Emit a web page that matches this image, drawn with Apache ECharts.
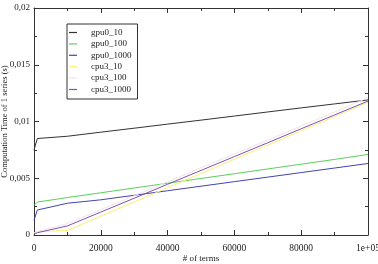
<!DOCTYPE html>
<html>
<head>
<meta charset="utf-8">
<script src="https://cdn.jsdelivr.net/npm/echarts@6/dist/echarts.min.js"></script>
<style>
  html, body { margin: 0; padding: 0; background: #fff; }
  #chart { width: 378px; height: 264px; }
</style>
</head>
<body>
<div id="chart"></div>
<script>
const terms = [0, 1000, 10000, 20000, 30000, 40000, 50000, 60000, 70000, 80000, 90000, 100000]

const gpu0_10 = [0.0075, 0.0085, 0.0087, 0.00906, 0.00941, 0.00977, 0.01012, 0.01048, 0.01084, 0.0112, 0.01155, 0.0119]
const gpu0_100 = [0.0026, 0.0029, 0.0033, 0.00372, 0.00414, 0.00456, 0.00498, 0.0054, 0.00582, 0.00624, 0.00666, 0.0071]
const gpu0_1000 = [0.0013, 0.0022, 0.0028, 0.0031, 0.0035, 0.0039, 0.0043, 0.0047, 0.0051, 0.0055, 0.0059, 0.0063]
const cpu3_10 = [0.0002, 0.0003, 0.0004, 0.00166, 0.00291, 0.00417, 0.00542, 0.00668, 0.00793, 0.00919, 0.01044, 0.0117]
const cpu3_100 = [0.0002, 0.0003, 0.0010, 0.00223, 0.00346, 0.00469, 0.00592, 0.00714, 0.00837, 0.0096, 0.01083, 0.0121]
const cpu3_1000 = [0.0001, 0.0002, 0.0008, 0.00202, 0.00324, 0.00447, 0.00569, 0.00691, 0.00813, 0.00936, 0.01058, 0.0118]

const seriesNames = ['gpu0_10', 'gpu0_100', 'gpu0_1000', 'cpu3_10', 'cpu3_100', 'cpu3_1000']
const seriesValues = [gpu0_10, gpu0_100, gpu0_1000, cpu3_10, cpu3_100, cpu3_1000]
const colors = ['#333333', '#5ccf5c', '#4444b0', '#f6f070', '#eee4ec', '#8450b0']

const xTickLabels = ['0', '20000', '40000', '60000', '80000', '1e+05']
const yTickLabels = ['0', '0,005', '0,01', '0,015', '0,02']

const font = '"Liberation Serif", "DejaVu Serif", serif'
const axisColor = '#333'

const chart = echarts.init(document.getElementById('chart'))

const baseX = {
  type: 'value',
  min: 0,
  max: 100000,
  interval: 20000,
  nameMoveOverlap: false,
  axisLine: { show: true, onZero: false, lineStyle: { color: axisColor, width: 1 } },
  axisTick: { show: true, inside: true, length: 5, lineStyle: { color: axisColor } },
  minorTick: { show: true, splitNumber: 2, length: 3, lineStyle: { color: axisColor } },
  splitLine: { show: false },
  minorSplitLine: { show: false }
}
const baseY = {
  type: 'value',
  min: 0,
  max: 0.02,
  interval: 0.005,
  nameMoveOverlap: false,
  axisLine: { show: true, onZero: false, lineStyle: { color: axisColor, width: 1 } },
  axisTick: { show: true, inside: true, length: 5, lineStyle: { color: axisColor } },
  minorTick: { show: true, splitNumber: 2, length: 3, lineStyle: { color: axisColor } },
  splitLine: { show: false },
  minorSplitLine: { show: false }
}

chart.setOption({
  animation: false,
  backgroundColor: '#fff',
  textStyle: { fontFamily: font },
  grid: { left: 34, right: 10, top: 8, bottom: 29, containLabel: false, outerBoundsMode: 'none' },
  legend: {
    left: 67,
    top: 24,
    orient: 'vertical',
    padding: [3, 6, 4, 2],
    itemGap: 0.4,
    icon: 'rect',
    itemWidth: 8,
    itemHeight: 1.2,
    borderColor: '#333',
    borderWidth: 1,
    borderRadius: 0,
    textStyle: { fontFamily: font, fontSize: 9, color: '#222', lineHeight: 11, padding: [0, 0, 0, 9] },
    data: seriesNames
  },
  xAxis: [
    {
      ...baseX,
      position: 'bottom',
      name: '# of terms',
      nameLocation: 'middle',
      nameGap: 19,
      nameTextStyle: { fontFamily: font, fontSize: 9, color: '#222' },
      axisLabel: {
        show: true,
        margin: 8,
        fontFamily: font,
        fontSize: 9.5,
        color: '#222',
        formatter: v => xTickLabels[Math.round(v / 20000)]
      }
    },
    { ...baseX, position: 'top', axisLabel: { show: false } }
  ],
  yAxis: [
    {
      ...baseY,
      position: 'left',
      name: 'Computation Time of 1 series (s)',
      nameLocation: 'middle',
      nameGap: 25,
      nameTextStyle: { fontFamily: font, fontSize: 8.5, color: '#222' },
      axisLabel: {
        show: true,
        margin: 4,
        fontFamily: font,
        fontSize: 9,
        color: '#222',
        formatter: v => yTickLabels[Math.round(v / 0.005)]
      }
    },
    { ...baseY, position: 'right', axisLabel: { show: false } }
  ],
  series: seriesNames.map((name, i) => ({
    name,
    type: 'line',
    xAxisIndex: 0,
    yAxisIndex: 0,
    symbol: 'none',
    color: colors[i],
    lineStyle: { color: colors[i], width: 1 },
    data: terms.map((t, j) => [t, seriesValues[i][j]])
  }))
})
</script>
</body>
</html>
